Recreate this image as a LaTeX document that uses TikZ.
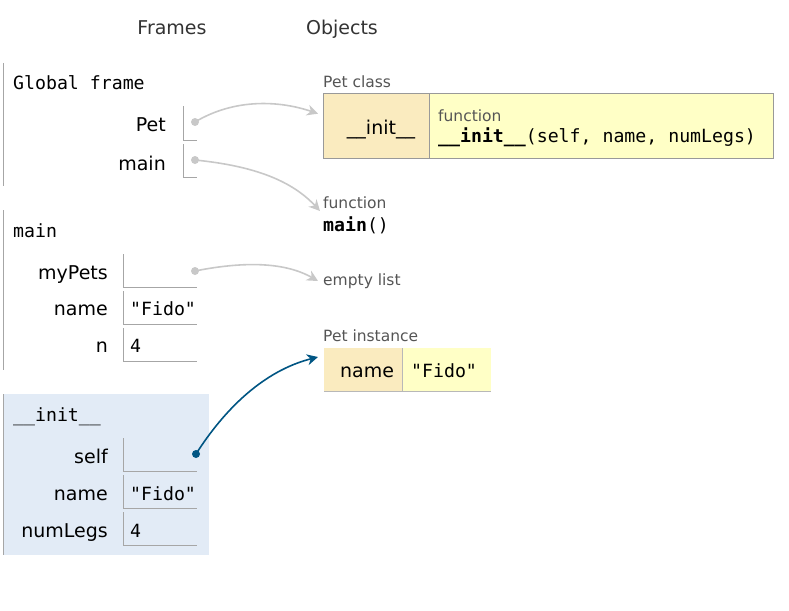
\documentclass[tikz,border=0pt]{standalone}
\usepackage{fontspec}
\setmainfont{DejaVu Sans}
\setmonofont{DejaVu Sans Mono}
\usetikzlibrary{positioning,arrows.meta}
\definecolor{hdrgrey}{HTML}{333333}
\definecolor{taggrey}{HTML}{555555}
\definecolor{rule}{HTML}{A6A6A6}
\definecolor{tblrule}{HTML}{999999}
\definecolor{keyfill}{HTML}{FAEBBF}
\definecolor{valfill}{HTML}{FFFFC6}
\definecolor{curfill}{HTML}{E2EBF6}
\definecolor{ptrgrey}{HTML}{C8C8C8}
\definecolor{ptrblue}{HTML}{005583}
\newcommand{\fn}[1]{\textbf{#1}}

\begin{document}
\begin{tikzpicture}[x=1pt,y=-1pt,every node/.style={inner sep=0pt},
      hdr/.style={font=\fontsize{19}{23}\selectfont,text=hdrgrey,anchor=base},
      tag/.style={font=\fontsize{15.5}{19}\selectfont,text=taggrey,anchor=base west},
      varname/.style={font=\fontsize{19}{23}\selectfont,anchor=base east},
      code/.style={font=\ttfamily\fontsize{18.2}{22}\selectfont,anchor=base west},
      frame/.style={anchor=north west,minimum width=205.5pt},
      slot/.style={anchor=north west,minimum width=74pt,minimum height=33pt},
      cell/.style={anchor=north west,minimum height=#1},
      dot/.style={circle,fill=ptrgrey,minimum size=8pt},
      ptr/.style={ptrgrey,line width=1.6pt,-{Stealth[length=11pt,width=11pt,inset=3.5pt]}}]
      \useasboundingbox (0,0) rectangle (789,610);
      \node[hdr] (frames) at (172,35) {Frames};
      \node[hdr] (objects) at (342,35) {Objects};
      \node[frame,minimum height=123pt] (gFrame) at (3.5,63) {};
      \node[frame,minimum height=160pt] (mFrame) at (3.5,210) {};
      \node[frame,minimum height=161pt,fill=curfill] (iFrame) at (3.5,394) {};
      \foreach \f in {gFrame,mFrame,iFrame} \draw[rule] (\f.north west) -- (\f.south west);
      \node[code] (gTitle) at (13,89) {Global frame};
      \node[varname] (gPet) at (166,131) {Pet};
      \node[varname] (gMain) at (166,170) {main};
      \node[slot,minimum width=14pt,minimum height=34pt] (sPet) at (183,106) {};
      \node[slot,minimum width=14pt] (sMain) at (183,144) {};
      \node[code] (mTitle) at (13,237) {main};
      \node[varname] (mPets) at (108,279) {myPets};
      \node[varname] (mName) at (108,315) {name};
      \node[varname] (mN) at (108,352) {n};
      \node[slot] (sPets) at (123,254) {};
      \node[slot] (sName) at (123,291) {};
      \node[slot] (sN) at (123,328) {};
      \node[code] (vName) at (130,315) {"Fido"};
      \node[code] (vN) at (130,352) {4};
      \node[code] (iTitle) at (13,421) {\_\_init\_\_};
      \node[varname] (iSelf) at (108,463) {self};
      \node[varname] (iName) at (108,500) {name};
      \node[varname] (iLegs) at (108,537) {numLegs};
      \node[slot] (sSelf) at (123,438) {};
      \node[slot] (sIName) at (123,475) {};
      \node[slot] (sLegs) at (123,512) {};
      \node[code] (vIName) at (130,500) {"Fido"};
      \node[code] (vLegs) at (130,537) {4};
      \foreach \s in {sPet,sMain,sPets,sName,sN,sSelf,sIName,sLegs}
        \draw[rule] (\s.north west) |- (\s.south east);
      \node[dot] (dPet) at (195,122) {};
      \node[dot] (dMain) at (195,160) {};
      \node[dot] (dPets) at (195,271) {};
      \node[dot,fill=ptrblue] (dSelf) at (196,454) {};
      \node[tag] (clsTag) at (323,87) {Pet class};
      \node[cell=65pt,minimum width=106pt,draw=tblrule,fill=keyfill] (clsKey) at (323,93) {};
      \node[cell=65pt,minimum width=344pt,draw=tblrule,fill=valfill] (clsVal) at (clsKey.north east) {};
      \node[varname,anchor=base] (clsInit) at (381,134) {\_\_init\_\_};
      \node[tag] (clsFnTag) at (438,121) {function};
      \node[code] (clsFn) at (438,142) {\fn{\_\_init\_\_}(self, name, numLegs)};
      \node[tag] (fnTag) at (323,208) {function};
      \node[code] (fnMain) at (323,231) {\fn{main}()};
      \node[tag] (listTag) at (323,285) {empty list};
      \node[tag] (instTag) at (323,341) {Pet instance};
      \node[cell=43pt,minimum width=78pt,fill=keyfill] (instKey) at (324,348) {};
      \node[cell=43pt,minimum width=88pt,fill=valfill] (instVal) at (instKey.north east) {};
      \draw[tblrule!70] (instKey.south west) -- (instVal.south east) (instVal.north west) -- (instVal.south west);
      \node[varname,anchor=base] (instName) at (367,377) {name};
      \node[code] (instFido) at (411,377) {"Fido"};
      \draw[ptr] (dPet.center) .. controls +(40,-24) and +(-38,-13) .. ([xshift=-5pt,yshift=12pt]clsKey.west);
      \draw[ptr] (dMain.center) .. controls +(60,6) and +(-28,-30) .. ([xshift=-3pt,yshift=-3pt]fnTag.base west);
      \draw[ptr] (dPets.center) .. controls +(45,-9) and +(-35,-20) .. ([xshift=-5pt,yshift=4pt]listTag.base west);
      \draw[ptr,ptrblue] (dSelf.center) .. controls +(28,-44) and +(-55,14) .. ([xshift=-6pt,yshift=-9pt]instKey.north west);
    \end{tikzpicture}
\end{document}
